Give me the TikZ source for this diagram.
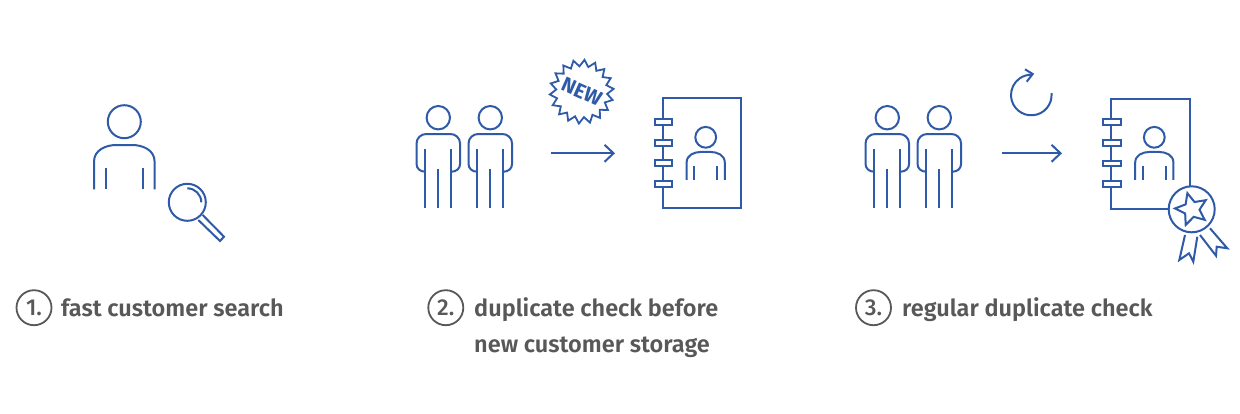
\documentclass[tikz,border=0pt]{standalone}
\usepackage{fontspec}
\setmainfont{Fira Sans}
\usetikzlibrary{arrows.meta,shapes.geometric}
\definecolor{iconblue}{HTML}{2F5AA8}
\definecolor{labelgrey}{HTML}{585858}
\newfontfamily\labelfont{Fira Sans SemiBold}
\newfontfamily\numfont{Fira Sans Medium}
\tikzset{
  icon/.style={draw=iconblue,line width=2pt,line join=miter},
  flow/.style={draw=iconblue,line width=2pt,-{Straight Barb[length=9pt,width=17pt,line width=2pt]}},
  numcircle/.style={circle,draw=labelgrey,line width=1.8pt,minimum size=35pt,inner sep=0pt,text=labelgrey,font=\numfont\fontsize{23}{26}\selectfont},
  caption/.style={anchor=base west,inner sep=0pt,text=labelgrey,font=\labelfont\fontsize{23.5}{36}\selectfont},
  pics/bust/.style={code={
    \draw[icon] (0,0) circle[radius=16.5];
    \draw[icon] (-30.3,67.6) -- (-30.3,40) .. controls (-30.3,28) and (-18,23.3) .. (-8,23.3)
      -- (8,23.3) .. controls (18,23.3) and (30.3,28) .. (30.3,40) -- (30.3,67.6);
    \draw[icon] (-18.5,46) -- (-18.5,67.6);
    \draw[icon] (18.5,46) -- (18.5,67.6);
  }},
  pics/standing/.style={code={
    \draw[icon] (0,0) circle[radius=11.7];
    \draw[icon] (-13.1,54) .. controls (-18,54) and (-21.8,51) .. (-21.8,46) -- (-21.8,26)
      .. controls (-21.8,20) and (-17,16.3) .. (-12,16.3) -- (12,16.3)
      .. controls (17,16.3) and (21.8,20) .. (21.8,26) -- (21.8,46)
      .. controls (21.8,51) and (18,54) .. (13.1,54);
    \draw[icon] (-13.1,31.6) -- (-13.1,90.6);
    \draw[icon] (13.1,31.6) -- (13.1,90.6);
    \draw[icon] (0,51.6) -- (0,90.6);
  }},
  pics/book/.style={code={
    \draw[icon] (0,0) rectangle (78.6,110);
    \foreach \ringy in {23.4,44.4,65,85.7}{
      \draw[icon,fill=white] (-8,\ringy-2.9) rectangle (9.3,\ringy+2.9);
    }
  }},
}
\begin{document}
\begin{tikzpicture}[x=1pt,y=-1pt]
\useasboundingbox[fill=white] (0,0) rectangle (1240,413);

% group 1
\pic at (124.3,121.7) {bust};
\coordinate (lens) at (187.3,202.3);
\draw[icon] (lens) circle[radius=18.5];
\draw[icon] (lens) ++(-90:14) arc[start angle=-90,end angle=0,radius=14];
\draw[icon] (202.7,215) -- (224,236.7) -- (220,241) -- (198.3,220);

% group 2
\pic at (438.3,117.7) {standing};
\pic at (490.3,117.7) {standing};
\coordinate (arrowAfrom) at (551,153.3);
\coordinate (arrowAto) at (615,153.3);
\draw[flow] (arrowAfrom) -- (arrowAto);
\node[star,star points=18,star point height=6.5pt,minimum size=64pt,inner sep=0pt,draw=iconblue,line width=1.8pt,rotate=-25] (newbadge) at (581.7,91.7) {};
\node[rotate=-24,inner sep=0pt,text=iconblue,font=\bfseries\fontsize{20.5}{22}\selectfont] (newword) at (newbadge.center) {NEW};
\pic at (662.7,98.3) {book};
\pic[scale=.63] at (705.7,137.3) {bust};

% group 3
\pic at (887.3,117.7) {standing};
\pic at (939.3,117.7) {standing};
\coordinate (arrowBfrom) at (1002,153.3);
\coordinate (arrowBto) at (1062,153.3);
\draw[flow] (arrowBfrom) -- (arrowBto);
\coordinate (loop) at (1031.3,95);
\draw[icon] (loop) ++(-5:20.3) arc[start angle=-5,end angle=272,radius=20.3];
\draw[icon] (1025,69.3) -- (1032.7,74) -- (1026.7,81.7);
\pic at (1111.3,98.5) {book};
\pic[scale=.63] at (1154.3,137.3) {bust};
\draw[icon] (1185,235) -- (1179.3,260) -- (1189,253.3) -- (1193.3,261.7) -- (1197.3,236.7);
\draw[icon] (1210,228.3) -- (1227.3,248.3) -- (1216.7,246.7) -- (1216,255.7) -- (1200,235);
\node[circle,draw=iconblue,line width=2pt,fill=white,minimum size=46pt,inner sep=0pt] (seal) at (1191.7,209.3) {};
\begin{scope}[shift={(seal.center)}]
\draw[icon] (-105:16.7) -- (-69:7.8) -- (-33:16.7) -- (3:7.8) -- (39:16.7) -- (75:7.8)
  -- (111:16.7) -- (147:7.8) -- (183:16.7) -- (219:7.8) -- cycle;
\end{scope}

% labels
\node[numcircle] (num1) at (34,307.7) {1.};
\node[caption] (cap1) at (61,316) {fast customer search};
\node[numcircle] (num2) at (445.8,307.7) {2.};
\node[caption] (cap2) at (474,316) {duplicate check before};
\node[caption] (cap2b) at (474,352.3) {new customer storage};
\node[numcircle] (num3) at (873.5,307.7) {3.};
\node[caption] (cap3) at (902,316) {regular duplicate check};
\end{tikzpicture}
\end{document}
